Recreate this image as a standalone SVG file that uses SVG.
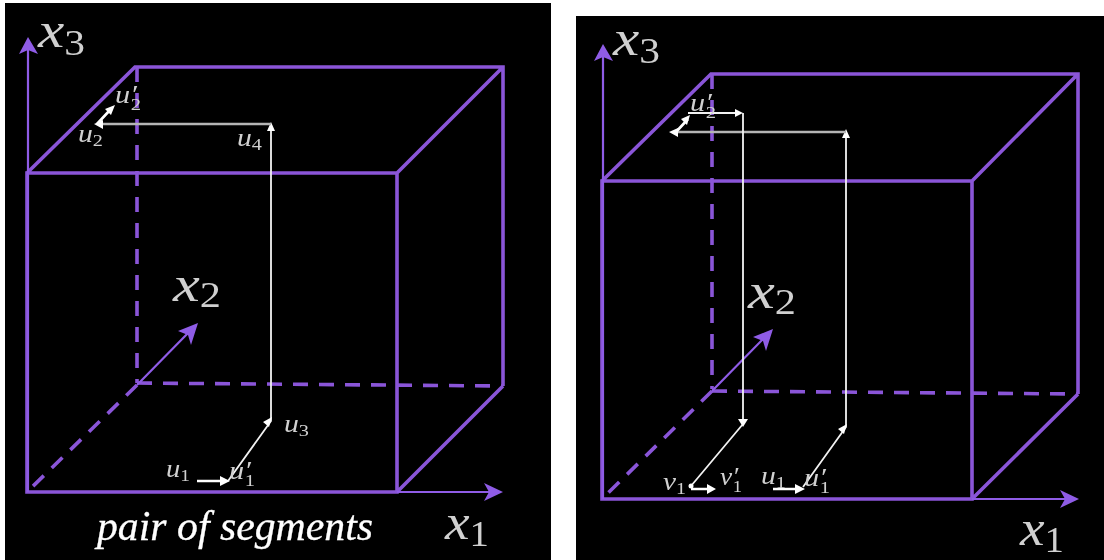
<svg xmlns="http://www.w3.org/2000/svg" width="1104" height="560" viewBox="0 0 1104 560">
<style>
.cube{fill:none;stroke:#8a55d8;stroke-width:3.6}
.dash{fill:none;stroke:#8a55d8;stroke-width:3.6;stroke-dasharray:15 11}
.axis{fill:none;stroke:#8f5ce6;stroke-width:2.2}
.ah{fill:#8f5ce6}
.seg{fill:none;stroke:#f2f2f2;stroke-width:1.8}
.seg2{fill:none;stroke:#fff;stroke-width:2.6}
.grey{fill:none;stroke:#b5b5b5;stroke-width:2.6}
.wh{fill:#fff}
text{font-family:"Liberation Serif","DejaVu Serif",serif;fill:#d0d0d0}
.big{font-size:50px;font-style:italic}
.bigs{font-size:35px;font-style:normal}
.sm{font-size:25px;font-style:italic}
.sms{font-size:17px;font-style:normal}
.cap{font-size:42px;font-style:italic;fill:#fff;stroke:#fff;stroke-width:.3}
</style>
<defs>
<filter id="b" x="-5%" y="-5%" width="110%" height="110%"><feGaussianBlur stdDeviation="0.5"/></filter>
</defs>
<rect width="1104" height="560" fill="#fff"/>
<rect x="5" y="3" width="546" height="557" fill="#000"/>
<rect x="576" y="16" width="528" height="544" fill="#000"/>
<g filter="url(#b)">
<g id="connectors">
<path class="cube" d="M27 173H397V492H27ZM27 173L135 67H503V386M397 173L503 67M397 492L503 386"/>
<path class="dash" d="M137 67V383"/>
<path class="dash" d="M137 383L503 386"/>
<path class="dash" d="M137 385L27 492"/>
<path class="axis" d="M28 492V45M397 492H495M137 385L192 329"/>
<path class="ah" d="M28 37L38 54L28 50L19 54ZM503 492L484 483L489 492L484 501ZM198 323L178 331L188 335L191 345Z"/>
<path class="seg" d="M228 481L271 421V125"/>
<path class="wh" d="M272 417L263 422L269 427Z M271 122L267 131H275Z"/>
<path class="grey" d="M271 124H100"/>
<path class="seg2" d="M197 481H222M97 124L110 110"/>
<path class="wh" d="M230 481L220 476V486Z M94 124L103 120V129Z M115 105L105 109L111 115Z"/>

<path class="cube" d="M602 181H972V499H602ZM602 181L711 74H1078V394M972 181L1078 74M972 499L1078 394"/>
<path class="dash" d="M712 74V389"/>
<path class="dash" d="M712 391L1078 394"/>
<path class="dash" d="M712 391L602 499"/>
<path class="axis" d="M603 499V52M972 499H1071M712 391L767 335"/>
<path class="ah" d="M603 44L613 61L603 57L594 61ZM1079 499L1060 490L1065 499L1060 508ZM773 329L753 337L763 341L766 351Z"/>
<path class="seg" d="M803 487L846 427V133"/>
<path class="wh" d="M847 424L838 429L844 434Z M846 129L842 138H850Z"/>
<path class="grey" d="M846 132H675"/>
<path class="seg" d="M691 486L743 424V113"/>
<path class="wh" d="M743 427L738 419H748Z"/>
<path class="seg" d="M688 113H738"/>
<path class="wh" d="M743 113L735 109V117Z"/>
<path class="seg2" d="M773 489H797M691 489H711M676 132L688 119"/>
<path class="wh" d="M805 489L795 484V494Z M716 489L707 484V494Z M669 132L678 128V137Z M690 115L681 119L687 125Z"/>
<circle class="wh" cx="691" cy="486" r="2.5"/>
</g>
<g id="label-left-x3"><text class="big" x="38" y="47" textLength="47" lengthAdjust="spacingAndGlyphs">x<tspan class="bigs" dy="8">3</tspan></text></g>
<g id="label-left-x2"><text class="big" x="173" y="301" textLength="48" lengthAdjust="spacingAndGlyphs">x<tspan class="bigs" dy="6">2</tspan></text></g>
<g id="label-left-x1"><text class="big" x="445" y="539" textLength="44" lengthAdjust="spacingAndGlyphs">x<tspan class="bigs" dy="7">1</tspan></text></g>
<g id="label-left-u2p"><text class="sm" x="115" y="103" textLength="26" lengthAdjust="spacingAndGlyphs">u′<tspan class="sms" dx="-5" dy="7">2</tspan></text></g>
<g id="label-left-u2"><text class="sm" x="78" y="142" textLength="25" lengthAdjust="spacingAndGlyphs">u<tspan class="sms" dy="4">2</tspan></text></g>
<g id="label-left-u4"><text class="sm" x="237" y="146" textLength="25" lengthAdjust="spacingAndGlyphs">u<tspan class="sms" dy="4">4</tspan></text></g>
<g id="label-left-u3"><text class="sm" x="284" y="432" textLength="25" lengthAdjust="spacingAndGlyphs">u<tspan class="sms" dy="4">3</tspan></text></g>
<g id="label-left-u1"><text class="sm" x="166" y="477" textLength="24" lengthAdjust="spacingAndGlyphs">u<tspan class="sms" dy="4">1</tspan></text></g>
<g id="label-left-u1p"><text class="sm" x="229" y="479" textLength="26" lengthAdjust="spacingAndGlyphs">u′<tspan class="sms" dx="-5" dy="7">1</tspan></text></g>
<g id="label-caption"><text class="cap" x="97" y="540" textLength="276" lengthAdjust="spacingAndGlyphs">pair of segments</text></g>
<g id="label-right-x3"><text class="big" x="613" y="55" textLength="47" lengthAdjust="spacingAndGlyphs">x<tspan class="bigs" dy="8">3</tspan></text></g>
<g id="label-right-x2"><text class="big" x="748" y="308" textLength="48" lengthAdjust="spacingAndGlyphs">x<tspan class="bigs" dy="6">2</tspan></text></g>
<g id="label-right-x1"><text class="big" x="1020" y="545" textLength="44" lengthAdjust="spacingAndGlyphs">x<tspan class="bigs" dy="7">1</tspan></text></g>
<g id="label-right-u2p"><text class="sm" x="690" y="111" textLength="26" lengthAdjust="spacingAndGlyphs">u′<tspan class="sms" dx="-5" dy="7">2</tspan></text></g>
<g id="label-right-v1"><text class="sm" x="663" y="490" textLength="23" lengthAdjust="spacingAndGlyphs">v<tspan class="sms" dy="4">1</tspan></text></g>
<g id="label-right-v1p"><text class="sm" x="720" y="485" textLength="22" lengthAdjust="spacingAndGlyphs">v′<tspan class="sms" dx="-5" dy="7">1</tspan></text></g>
<g id="label-right-u1"><text class="sm" x="761" y="484" textLength="25" lengthAdjust="spacingAndGlyphs">u<tspan class="sms" dy="4">1</tspan></text></g>
<g id="label-right-u1p"><text class="sm" x="804" y="486" textLength="26" lengthAdjust="spacingAndGlyphs">u′<tspan class="sms" dx="-5" dy="7">1</tspan></text></g>
</g>
</svg>
